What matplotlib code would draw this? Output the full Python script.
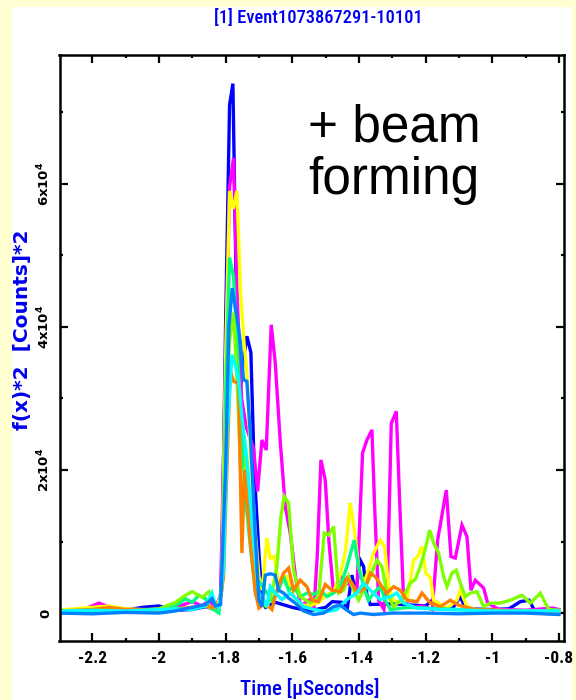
import numpy as np
import matplotlib
matplotlib.use("Agg")
import matplotlib.pyplot as plt
from matplotlib.patches import Rectangle
from matplotlib.ticker import MultipleLocator, FixedLocator, FixedFormatter

# time in microseconds, power in thousands of counts^2
blue_t = [-2.30, -2.20, -2.10, -2.05, -2.00, -1.95, -1.90, -1.86, -1.84, -1.825, -1.812, -1.80, -1.788, -1.778,
          -1.768, -1.758, -1.748, -1.736, -1.724, -1.714, -1.70, -1.69, -1.68, -1.65, -1.60, -1.55, -1.50, -1.48,
          -1.45, -1.435, -1.421, -1.41, -1.396, -1.386, -1.376, -1.366, -1.30, -1.20, -1.18, -1.15, -1.12, -1.096,
          -1.08, -1.00, -0.95, -0.916, -0.89, -0.875, -0.85, -0.80]
blue_p = [0.2, 0.3, 0.4, 0.8, 1.0, 0.4, 0.5, 0.9, 0.6, 0.8, 3.0, 40, 71, 74, 45, 30, 35, 38.7, 36.4, 20, 8.4, 1.5,
          0.8, 1.5, 0.8, 0.3, 0.8, 1.6, 1.5, 0.6, 5.3, 2.8, 7.4, 6.5, 2.5, 1.2, 1.3, 1.0, 1.8, 0.8, 0.6, 2.3, 0.6,
          0.5, 0.6, 1.6, 1.8, 0.5, 0.3, 0.2]

magenta_t = [-2.30, -2.22, -2.18, -2.14, -2.05, -1.95, -1.90, -1.87, -1.85, -1.83, -1.815, -1.80, -1.788, -1.776,
             -1.766, -1.752, -1.738, -1.716, -1.704, -1.691, -1.678, -1.663, -1.651, -1.636, -1.621, -1.606, -1.59,
             -1.575, -1.55, -1.535, -1.525, -1.514, -1.501, -1.49, -1.476, -1.456, -1.43, -1.406, -1.389, -1.376,
             -1.361, -1.353, -1.341, -1.325, -1.314, -1.303, -1.288, -1.278, -1.266, -1.24, -1.21, -1.18, -1.164,
             -1.138, -1.124, -1.111, -1.091, -1.076, -1.064, -1.051, -1.026, -1.014, -0.98, -0.90, -0.82, -0.80]
magenta_p = [0.3, 0.6, 1.4, 0.7, 0.4, 0.8, 1.6, 1.0, 1.8, 0.8, 2.5, 35, 59.6, 63.6, 45, 30, 26, 23, 17, 24.2,
             22.8, 40.3, 35, 24, 14.9, 11.2, 5, 1.0, 1.8, 0.5, 8, 21.4, 18.6, 10, 2.8, 5.2, 4.0, 3.5, 22.4, 24.2,
             25.6, 15, 1.8, 0.5, 5, 26.5, 28.2, 15.8, 1.8, 0.8, 1.0, 0.5, 10.2, 17.2, 7.9, 7.7, 12.3, 10.7, 3.2,
             4.6, 3.5, 1.4, 0.5, 0.4, 0.7, 0.5]

yellow_t = [-2.30, -2.20, -2.15, -2.10, -2.05, -1.95, -1.90, -1.86, -1.84, -1.825, -1.812, -1.80, -1.788, -1.777,
            -1.766, -1.755, -1.745, -1.736, -1.725, -1.712, -1.70, -1.69, -1.676, -1.666, -1.654, -1.641, -1.631,
            -1.616, -1.601, -1.576, -1.55, -1.52, -1.50, -1.476, -1.455, -1.44, -1.426, -1.414, -1.401, -1.386,
            -1.371, -1.356, -1.336, -1.323, -1.311, -1.296, -1.28, -1.256, -1.236, -1.224, -1.211, -1.2, -1.186,
            -1.176, -1.136, -1.106, -1.096, -1.076, -1.05, -1.00, -0.90, -0.80]
yellow_p = [0.4, 0.8, 1.0, 0.6, 0.5, 0.4, 0.8, 1.0, 0.6, 1.0, 3.0, 35, 59, 56.5, 59, 45, 38, 33.5, 22, 12, 5.1,
            3.2, 10.5, 7.7, 7.9, 4.2, 4.9, 5.1, 2.8, 1.2, 1.0, 1.5, 2.5, 3.0, 5.5, 8.8, 15.4, 11.6, 6.5, 4.2, 6.0,
            8.4, 10.2, 9.3, 3.7, 1.8, 1.5, 1.8, 7.4, 7.9, 9.3, 5.6, 5.0, 1.8, 0.7, 1.8, 3.2, 0.9, 0.5, 0.4, 0.3,
            0.3]

spring_t = [-2.30, -2.20, -2.10, -2.00, -1.95, -1.92, -1.90, -1.88, -1.86, -1.85, -1.835, -1.82, -1.81, -1.80,
            -1.788, -1.776, -1.766, -1.755, -1.74, -1.725, -1.71, -1.696, -1.676, -1.661, -1.641, -1.626, -1.611,
            -1.596, -1.576, -1.556, -1.536, -1.516, -1.496, -1.476, -1.456, -1.436, -1.414, -1.401, -1.386, -1.371,
            -1.356, -1.336, -1.321, -1.306, -1.25, -1.15, -1.05, -0.95, -0.80]
spring_p = [0.2, 0.3, 0.4, 0.5, 1.0, 2.0, 1.5, 2.5, 2.0, 1.0, 0.5, 0.0, 5, 30, 49.7, 47, 38, 28, 16, 9, 3, 4.2,
            2.8, 1.8, 3.2, 5.1, 3.2, 3.7, 2.3, 2.8, 2.6, 3.2, 2.3, 2.8, 3.7, 6.5, 10.2, 6.5, 3.7, 1.8, 2.8, 3.7,
            1.8, 0.5, 0.8, 0.6, 0.4, 0.3, 0.2]

lime_t = [-2.30, -2.20, -2.10, -2.00, -1.95, -1.92, -1.90, -1.87, -1.85, -1.835, -1.82, -1.81, -1.80, -1.788,
          -1.776, -1.763, -1.751, -1.738, -1.726, -1.706, -1.696, -1.676, -1.661, -1.646, -1.634, -1.624, -1.611,
          -1.596, -1.576, -1.546, -1.521, -1.504, -1.491, -1.476, -1.461, -1.446, -1.431, -1.416, -1.401, -1.381,
          -1.366, -1.346, -1.331, -1.316, -1.296, -1.276, -1.261, -1.246, -1.231, -1.216, -1.204, -1.188, -1.176,
          -1.161, -1.146, -1.136, -1.121, -1.108, -1.096, -1.081, -1.066, -1.046, -1.026, -1.006, -0.976, -0.946,
          -0.911, -0.886, -0.856, -0.831, -0.80]
lime_p = [0.2, 0.4, 0.3, 0.6, 1.5, 2.5, 3.0, 2.2, 3.0, 1.5, 0.8, 4, 25, 38, 42, 30, 14.9, 21.9, 15, 4.7, 1.4,
          0.9, 2.8, 6.5, 13.5, 16.3, 15.4, 6.0, 2.3, 1.4, 2.3, 11.2, 10.9, 12.1, 2.8, 3.2, 5.1, 3.2, 1.8, 3.7, 5.1,
          7.4, 6.5, 2.8, 0.9, 1.8, 2.8, 4.2, 4.7, 6.5, 8.4, 11.6, 9.8, 8.4, 5.1, 3.7, 5.6, 6.0, 4.2, 2.3, 2.8, 3.0,
          0.9, 1.4, 1.4, 1.8, 2.5, 1.4, 2.8, 0.5, 0.4]

orange_t = [-2.30, -2.20, -2.15, -2.10, -2.00, -1.95, -1.90, -1.86, -1.84, -1.82, -1.806, -1.796, -1.786, -1.776,
            -1.761, -1.751, -1.743, -1.735, -1.726, -1.711, -1.70, -1.681, -1.661, -1.646, -1.626, -1.611, -1.596,
            -1.576, -1.556, -1.541, -1.521, -1.501, -1.481, -1.456, -1.436, -1.421, -1.406, -1.381, -1.366, -1.351,
            -1.331, -1.316, -1.296, -1.276, -1.256, -1.226, -1.211, -1.186, -1.156, -1.126, -1.101, -1.05, -0.95,
            -0.80]
orange_p = [0.3, 0.5, 0.8, 0.5, 0.4, 0.6, 0.8, 1.0, 0.8, 1.0, 5.0, 20, 34, 32.4, 32.1, 8.4, 20, 16, 10, 3, 0.7,
            1.4, 0.5, 3.2, 5.6, 6.3, 3.2, 4.6, 3.7, 1.8, 1.6, 4.0, 3.2, 3.0, 4.9, 4.2, 2.8, 3.5, 5.6, 5.1, 3.7, 2.8,
            3.7, 3.2, 1.8, 1.6, 2.8, 1.4, 0.9, 1.8, 1.1, 0.5, 0.3, 0.2]

cyan_t = [-2.30, -2.20, -2.10, -2.00, -1.95, -1.90, -1.86, -1.841, -1.83, -1.82, -1.806, -1.795, -1.781, -1.771,
          -1.761, -1.751, -1.736, -1.716, -1.70, -1.686, -1.676, -1.666, -1.651, -1.631, -1.606, -1.586, -1.566,
          -1.536, -1.496, -1.466, -1.436, -1.406, -1.386, -1.366, -1.336, -1.306, -1.286, -1.266, -1.226, -1.15,
          -1.0, -0.90, -0.80]
cyan_p = [0.3, 0.4, 0.3, 0.5, 0.6, 0.5, 1.0, 2.8, 1.0, 0.8, 6, 25, 36.1, 34.7, 32.6, 27.5, 21.4, 10.2, 2.8, 1.9,
          0.9, 3.7, 2.8, 1.9, 2.8, 1.9, 0.9, 0.5, 0.2, 0.5, 1.9, 2.8, 4.2, 3.2, 1.9, 2.3, 2.8, 1.4, 0.7, 0.5, 0.3,
          0.3, 0.3]

azure_t = [-2.30, -2.20, -2.10, -2.00, -1.95, -1.90, -1.86, -1.841, -1.83, -1.815, -1.80, -1.79, -1.78, -1.768,
           -1.756, -1.746, -1.736, -1.726, -1.711, -1.70, -1.691, -1.681, -1.666, -1.651, -1.641, -1.626, -1.611,
           -1.591, -1.566, -1.536, -1.506, -1.476, -1.456, -1.436, -1.416, -1.396, -1.356, -1.30, -1.20, -1.10,
           -1.00, -0.90, -0.80]
azure_p = [0.0, -0.1, 0.1, 0.0, 0.3, 0.8, 1.2, 2.0, 1.0, 1.2, 20, 40, 45.4, 42, 38, 32.6, 32.4, 25.2, 11, 1.8,
           0.9, 5.3, 5.5, 5.3, 3.2, 2.8, 2.1, 1.4, 0.3, -0.2, 0.0, 0.9, 1.1, 0.4, -0.2, 0.0, -0.2, 0.0, 0.0, -0.1,
           0.0, 0.0, -0.2]

series = [
    (blue_t, blue_p, "#0000ff"),
    (magenta_t, magenta_p, "#ff00ff"),
    (yellow_t, yellow_p, "#ffff00"),
    (spring_t, spring_p, "#00ff80"),
    (lime_t, lime_p, "#80ff00"),
    (orange_t, orange_p, "#ff8000"),
    (cyan_t, cyan_p, "#00ffff"),
    (azure_t, azure_p, "#0080ff"),
]

xticks = [-2.2, -2, -1.8, -1.6, -1.4, -1.2, -1, -0.8]
xtick_labels = ["-2.2", "-2", "-1.8", "-1.6", "-1.4", "-1.2", "-1", "-0.8"]
yticks = [0, 20000, 40000, 60000]
ytick_labels = ["0", r"2x10$^{4}$", r"4x10$^{4}$", r"6x10$^{4}$"]

narrow = ["Roboto Condensed", "DejaVu Sans"]
plt.rcParams["mathtext.fontset"] = "custom"
plt.rcParams["mathtext.bf"] = "DejaVu Sans:bold"
plt.rcParams["mathtext.rm"] = "DejaVu Sans:bold"
plt.rcParams["mathtext.it"] = "DejaVu Sans:bold"
plt.rcParams["mathtext.default"] = "bf"

fig = plt.figure(figsize=(5.76, 7.0), dpi=100, facecolor="#ffffd2")
fig.patches.append(Rectangle((12 / 576, 0), 560 / 576, 693 / 700, transform=fig.transFigure,
                             facecolor="white", edgecolor="none", zorder=-5))

ax = fig.add_axes([59.5 / 576, 1 - 641 / 700, (564 - 59.5) / 576, (641 - 55) / 700])
ax.set_facecolor("white")

for t, p, c in series:
    ax.plot(t, np.array(p) * 1000, color=c, lw=2.4, solid_joinstyle="miter")

ax.set_xlim(-2.298, -0.785)
ax.set_ylim(-3900, 78000)

ax.xaxis.set_major_locator(FixedLocator(xticks))
ax.xaxis.set_major_formatter(FixedFormatter(xtick_labels))
ax.xaxis.set_minor_locator(MultipleLocator(0.1))
ax.yaxis.set_major_locator(FixedLocator(yticks))
ax.yaxis.set_major_formatter(FixedFormatter(ytick_labels))
ax.yaxis.set_minor_locator(MultipleLocator(10000))

ax.tick_params(which="both", direction="in", top=True, right=True, width=1.6, colors="black")
ax.tick_params(which="major", length=5.5)
ax.tick_params(which="minor", length=2.5)
ax.tick_params(axis="x", pad=7)
ax.tick_params(axis="y", pad=5)
for sp in ax.spines.values():
    sp.set_linewidth(1.8)

for lab in ax.get_xticklabels():
    lab.set_family(narrow)
    lab.set_fontweight("bold")
    lab.set_fontsize(12.5)
for lab in ax.get_yticklabels():
    lab.set_fontweight("bold")
    lab.set_fontsize(9.5)
    lab.set_rotation(90)
    lab.set_va("center")

fig.text(0.552, 0.974, "[1] Event1073867291-10101", color="#0000ee", ha="center", va="center",
         fontsize=13.3, family=narrow, fontweight="medium")
fig.text(0.538, 0.017, "Time [\u03bcSeconds]", color="#0000ee", ha="center", va="center",
         fontsize=15, family=narrow, fontweight="medium")
fig.text(0.039, 0.529, "f(x)*2  [Counts]*2", color="#0000ee", ha="center", va="center",
         fontsize=14.5, fontweight="bold", rotation=90)

fig.text(308 / 576, 1 - 142 / 700, "+ beam", color="black", ha="left", va="baseline",
         fontsize=37, family=["Liberation Sans", "DejaVu Sans"])
fig.text(308 / 576, 1 - 194 / 700, "forming", color="black", ha="left", va="baseline",
         fontsize=37, family=["Liberation Sans", "DejaVu Sans"])

fig.savefig("out.png", dpi=100, facecolor=fig.get_facecolor())
